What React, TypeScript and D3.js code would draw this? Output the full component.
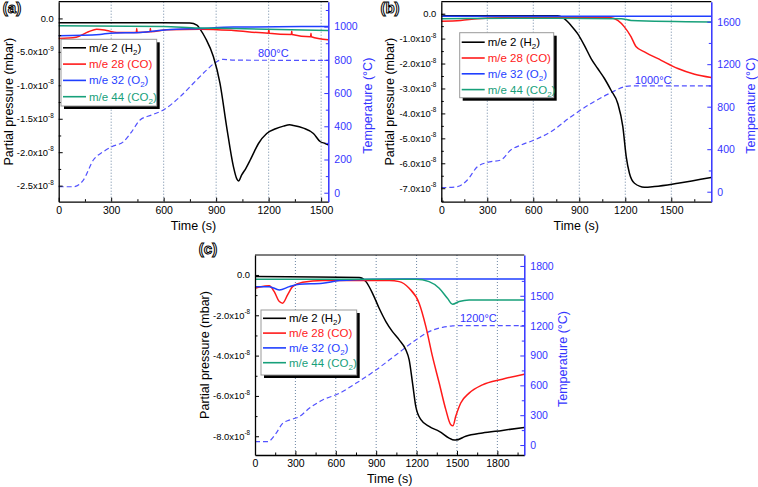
import React, { useEffect, useRef } from 'react';
import * as d3 from 'd3';

// time (s) / partial pressure (1e-9 mbar) pairs, temperature in °C
const aH2 = [[0, -0.65], [300, -0.65], [600, -0.65], [750, -0.7], [790, -1.0], [808, -1.6], [840, -3.0], [884, -5.7], [922, -9.7], [960, -16.2], [999, -22.2], [1018, -24.0], [1028, -24.3], [1046, -23.4], [1070, -22.4], [1094, -21.2], [1120, -19.8], [1142, -18.7], [1189, -17.2], [1240, -16.5], [1285, -16.1], [1320, -15.9], [1342, -16.0], [1399, -16.4], [1456, -17.2], [1494, -18.4], [1523, -18.7], [1540, -18.9]];
const aCO = [[0, -3.0], [100, -2.8], [170, -2.0], [217, -1.6], [274, -1.8], [332, -2.1], [444, -2.1], [446, -1.5], [448, -2.1], [522, -2.0], [524, -1.5], [526, -2.0], [618, -1.7], [808, -1.6], [999, -1.8], [1199, -2.2], [1201, -1.6], [1203, -2.2], [1330, -2.4], [1332, -1.9], [1334, -2.4], [1440, -2.75], [1442, -2.2], [1444, -2.75], [1540, -3.2]];
const aO2 = [[0, -2.6], [236, -2.4], [294, -2.2], [465, -2.1], [618, -1.7], [808, -1.5], [999, -1.3], [1540, -1.2]];
const aCO2 = [[0, -1.1], [600, -1.2], [800, -1.45], [1000, -1.5], [1540, -1.8]];
const aTemp = [[0, 36], [84, 36], [141, 76], [198, 197], [255, 247], [303, 277], [370, 307], [417, 367], [465, 438], [532, 468], [598, 498], [694, 578], [770, 659], [846, 739], [903, 789], [941, 803], [1000, 798], [1540, 797]];

const bH2 = [[0, -0.3], [30, -0.8], [759, -0.8], [802, -2], [846, -4.7], [889, -8], [933, -12.7], [977, -18], [1020, -22], [1064, -26], [1107, -30.7], [1151, -36], [1184, -45.3], [1206, -57.3], [1227, -64], [1260, -68], [1325, -69.6], [1391, -69.3], [1543, -68], [1760, -65.7]];
const bCO = [[0, -3], [126, -2.7], [235, -2], [400, -1.6], [1107, -1.6], [1151, -2.7], [1194, -5.3], [1238, -9.3], [1271, -13.3], [1325, -15.3], [1434, -18.7], [1543, -22], [1652, -24.3], [1760, -25.6]];
const bO2 = [[0, -1], [1760, -1]];
const bCO2 = [[0, -2], [600, -1.8], [1173, -2], [1238, -2.7], [1760, -3.3]];
const bTemp = [[0, 38], [105, 47], [170, 110], [235, 235], [301, 276], [388, 298], [453, 392], [519, 439], [606, 486], [715, 565], [846, 706], [977, 831], [1107, 932], [1194, 988], [1238, 996], [1760, 996]];

const cH2 = [[0, -0.8], [774, -1.3], [824, -3.3], [873, -9.1], [922, -16.5], [972, -23.1], [1021, -28.1], [1071, -32.2], [1120, -37.1], [1145, -42.1], [1170, -53.6], [1194, -65.2], [1232, -71.8], [1293, -75.1], [1368, -77.6], [1467, -81.7], [1490, -81.9], [1565, -80], [1689, -78.4], [1837, -77.1], [2000, -75.6]];
const cCO = [[0, -6.6], [45, -5.8], [106, -5.4], [143, -8.3], [181, -13.2], [205, -14], [242, -9.9], [279, -5.8], [354, -3.6], [502, -2.8], [997, -2.8], [1071, -3.3], [1145, -6.6], [1219, -14], [1269, -25.6], [1318, -40.4], [1368, -53.6], [1417, -66.8], [1454, -74.3], [1470, -74.8], [1491, -70.1], [1528, -63.5], [1590, -58.6], [1689, -54.5], [1837, -51.7], [2000, -49.2]];
const cO2 = [[0, -5.8], [106, -5.8], [181, -7.4], [255, -5.8], [329, -4.6], [502, -4.1], [626, -2.8], [873, -2.1], [1120, -2], [2000, -2]];
const cCO2 = [[0, -2.1], [1194, -2.1], [1293, -3.3], [1368, -6.6], [1429, -11.6], [1467, -14.5], [1516, -13.2], [1590, -12.4], [2000, -12.4]];
const cTemp = [[0, 34], [94, 34], [156, 117], [205, 218], [255, 251], [329, 285], [403, 369], [502, 453], [626, 520], [749, 620], [898, 754], [1046, 905], [1194, 1056], [1293, 1140], [1392, 1183], [1467, 1197], [1500, 1200], [2000, 1200]];

const seriesNames = [['m/e 2 (H', '2', ')'], ['m/e 28 (CO)', '', ''], ['m/e 32 (O', '2', ')'], ['m/e 44 (CO', '2', ')']];
const seriesColors = ['#000000', '#ff1a1a', '#1f3fff', '#17a07a'];
const tempColor = '#5252ff';
const axisBlue = '#3434ff';
const font = 'Liberation Sans, Arial, sans-serif';

const panels = [
  {
    tag: '(a)', tagX: 12, tagY: 13,
    box: [58.7, 328.3, 1.7, 201.7], tMax: 1541, pDom: [-27.4, 2.5], tDom: [-54, 1150],
    xTicks: [0, 300, 600, 900, 1200, 1500], xStep: 150,
    pTicks: [0, -5, -10, -15, -20, -25], pStep: 2.5,
    tTicks: [0, 200, 400, 600, 800, 1000], tStep: 100,
    series: [aH2, aCO, aO2, aCO2], temp: aTemp,
    legend: [61, 39.3, 95.7, 66.7, 8.5, 16.3],
    note: '800°C', noteX: 258, noteY: 57,
    leftTitleX: 9, rightTitleX: 368, timeY: 230,
  },
  {
    tag: '(b)', tagX: 390, tagY: 13,
    box: [441.3, 711.3, 1.7, 201.7], tMax: 1761, pDom: [-75.4, 4.8], tDom: [-94, 1788],
    xTicks: [0, 300, 600, 900, 1200, 1500], xStep: 150,
    pTicks: [0, -10, -20, -30, -40, -50, -60, -70], pStep: 5,
    tTicks: [0, 400, 800, 1200, 1600], tStep: 200,
    series: [bH2, bCO, bO2, bCO2], temp: bTemp,
    legend: [459.7, 32.7, 94, 65, 9.5, 15.8],
    note: '1000°C', noteX: 634.7, noteY: 84,
    leftTitleX: 389.7, rightTitleX: 751, timeY: 230,
  },
  {
    tag: '(c)', tagX: 208, tagY: 254,
    box: [255, 524.3, 255, 455], tMax: 2000, pDom: [-89.3, 9.9], tDom: [-100, 1910],
    xTicks: [0, 300, 600, 900, 1200, 1500, 1800], xStep: 150,
    pTicks: [0, -20, -40, -60, -80], pStep: 10,
    tTicks: [0, 300, 600, 900, 1200, 1500, 1800], tStep: 150,
    series: [cH2, cCO, cO2, cCO2], temp: cTemp,
    legend: [261, 310, 95.7, 65, 8.3, 14.8],
    note: '1200°C', noteX: 460, noteY: 322,
    leftTitleX: 205, rightTitleX: 563, timeY: 483,
  },
];

function expLabel(v) {
  if (v === 0) return ['0.0', ''];
  const val = v * 1e-9;
  const e = Math.floor(Math.log10(Math.abs(val)) + 1e-9);
  const m = val / Math.pow(10, e);
  return [`${m.toFixed(1)}x10`, `${e}`];
}

function minorTicks(max, step, major) {
  const out = [];
  for (let v = 0; v <= max + 1e-6; v += step) if (!major.includes(v)) out.push(v);
  return out;
}

function drawPanel(svg, p) {
  const [x0, x1, y0, y1] = p.box;
  const x = d3.scaleLinear().domain([0, p.tMax]).range([x0, x1]);
  const yL = d3.scaleLinear().domain(p.pDom).range([y1, y0]);
  const yR = d3.scaleLinear().domain(p.tDom).range([y1, y0]);
  const g = svg.append('g').attr('font-family', font);

  // dotted grid at major x ticks
  g.append('g').selectAll('line')
    .data(p.xTicks.filter(t => t > 0))
    .join('line')
    .attr('x1', d => x(d)).attr('x2', d => x(d))
    .attr('y1', y0).attr('y2', y1)
    .attr('stroke', '#6c86a3').attr('stroke-width', 1).attr('stroke-dasharray', '1,2');

  // temperature
  const tLine = d3.line().x(d => x(d[0])).y(d => yR(d[1])).curve(d3.curveMonotoneX);
  g.append('path').attr('d', tLine(p.temp)).attr('fill', 'none')
    .attr('stroke', tempColor).attr('stroke-width', 1.2).attr('stroke-dasharray', '5,3');

  const pLine = d3.line().x(d => x(d[0])).y(d => yL(d[1])).curve(d3.curveMonotoneX);
  p.series.forEach((s, i) => {
    g.append('path').attr('d', pLine(s)).attr('fill', 'none')
      .attr('stroke', seriesColors[i]).attr('stroke-width', 1.5);
  });

  // bottom axis
  const bottom = g.append('g').attr('transform', `translate(0,${y1})`)
    .call(d3.axisBottom(x).tickValues(p.xTicks).tickSize(-4).tickSizeOuter(0).tickPadding(5).tickFormat(d3.format('d')));
  g.append('g').attr('transform', `translate(0,${y1})`)
    .call(d3.axisBottom(x).tickValues(minorTicks(p.tMax, p.xStep, p.xTicks)).tickSize(-2.5).tickSizeOuter(0).tickFormat(''))
    .select('.domain').remove();
  bottom.selectAll('text').attr('font-size', 10.5).attr('font-family', font);
  bottom.select('.domain').attr('stroke-width', 1.3);

  // top border
  g.append('line').attr('x1', x0).attr('x2', x1).attr('y1', y0).attr('y2', y0).attr('stroke', '#000').attr('stroke-width', 1.2);

  // left axis
  const left = g.append('g').attr('transform', `translate(${x0},0)`)
    .call(d3.axisLeft(yL).tickValues(p.pTicks).tickSize(-4).tickSizeOuter(0).tickFormat(''));
  left.select('.domain').attr('stroke-width', 1.3);
  const pMinor = [];
  for (let v = 0; v >= p.pDom[0]; v -= p.pStep) if (!p.pTicks.includes(v)) pMinor.push(v);
  g.append('g').attr('transform', `translate(${x0},0)`)
    .call(d3.axisLeft(yL).tickValues(pMinor).tickSize(-2.5).tickFormat(''))
    .select('.domain').remove();
  p.pTicks.forEach(v => {
    const [base, ex] = expLabel(v);
    const t = g.append('text').attr('x', x0 - 5).attr('y', yL(v) + 3.5)
      .attr('text-anchor', 'end').attr('font-size', 9.4).attr('fill', '#000');
    t.append('tspan').text(base);
    if (ex) t.append('tspan').attr('dy', -4.5).attr('font-size', 6.3).text(ex);
  });

  // right axis (temperature)
  const right = g.append('g').attr('transform', `translate(${x1},0)`)
    .call(d3.axisRight(yR).tickValues(p.tTicks).tickSize(-4).tickSizeOuter(0).tickPadding(6).tickFormat(d3.format('d')));
  right.select('.domain').attr('stroke', axisBlue).attr('stroke-width', 1.5);
  right.selectAll('.tick line').attr('stroke', axisBlue);
  right.selectAll('text').attr('fill', axisBlue).attr('font-size', 10.5).attr('font-family', font);
  g.append('g').attr('transform', `translate(${x1},0)`)
    .call(d3.axisRight(yR).tickValues(minorTicks(p.tDom[1], p.tStep, p.tTicks)).tickSize(-2.5).tickFormat(''))
    .call(a => a.select('.domain').remove())
    .selectAll('.tick line').attr('stroke', axisBlue);

  // titles
  const midY = (y0 + y1) / 2;
  g.append('text').attr('transform', `translate(${p.leftTitleX},${midY}) rotate(-90)`)
    .attr('text-anchor', 'middle').attr('dy', '0.35em').attr('font-size', 12.5).text('Partial pressure (mbar)');
  g.append('text').attr('transform', `translate(${p.rightTitleX},${midY + 4}) rotate(-90)`)
    .attr('text-anchor', 'middle').attr('dy', '0.35em').attr('font-size', 12.5).attr('fill', axisBlue).text('Temperature (°C)');
  g.append('text').attr('x', (x0 + x1) / 2).attr('y', p.timeY).attr('text-anchor', 'middle')
    .attr('font-size', 12.5).text('Time (s)');
  g.append('text').attr('x', p.noteX).attr('y', p.noteY).attr('font-size', 11).attr('fill', axisBlue).text(p.note);

  // panel tag
  g.append('text').attr('x', p.tagX).attr('y', p.tagY).attr('text-anchor', 'middle')
    .attr('font-size', 15).attr('font-weight', 'bold').attr('fill', '#fff')
    .attr('stroke', '#000').attr('stroke-width', 1).text(p.tag);

  // legend
  const [lx, ly, lw, lh, r0, gap] = p.legend;
  const lg = g.append('g');
  lg.append('rect').attr('x', lx + 3).attr('y', ly + 3).attr('width', lw).attr('height', lh).attr('fill', '#000');
  lg.append('rect').attr('x', lx).attr('y', ly).attr('width', lw).attr('height', lh)
    .attr('fill', '#fff').attr('stroke', '#9a9a9a').attr('stroke-width', 1);
  seriesNames.forEach((nm, i) => {
    const ry = ly + r0 + i * gap;
    lg.append('line').attr('x1', lx + 2).attr('x2', lx + 25).attr('y1', ry).attr('y2', ry)
      .attr('stroke', seriesColors[i]).attr('stroke-width', 1.6);
    const t = lg.append('text').attr('x', lx + 28).attr('y', ry + 4).attr('font-size', 11.5).attr('fill', seriesColors[i]);
    t.append('tspan').text(nm[0]);
    if (nm[1]) {
      t.append('tspan').attr('dy', 3).attr('font-size', 8).text(nm[1]);
      t.append('tspan').attr('dy', -3).text(nm[2]);
    }
  });
}

export default function App() {
  const ref = useRef(null);
  useEffect(() => {
    const svg = d3.select(ref.current);
    svg.selectAll('*').remove();
    panels.forEach(p => drawPanel(svg, p));
  }, []);
  return (
    <svg ref={ref} width={758} height={487}
      style={{ position: 'absolute', left: 0, top: 0, background: '#fff' }} />
  );
}
